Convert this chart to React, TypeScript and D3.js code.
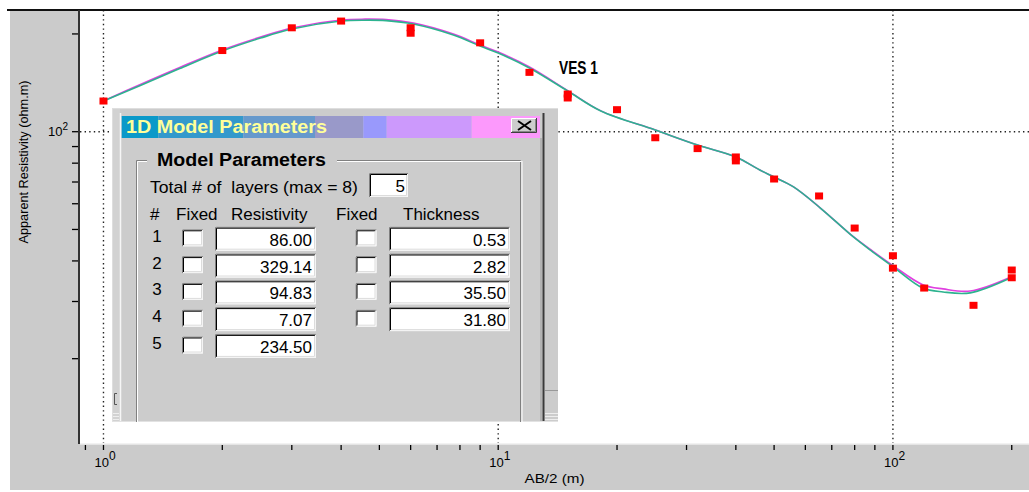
import React from 'react';
import * as d3 from 'd3';

// ---- observed data (AB/2 in m, apparent resistivity in ohm.m) ----
const obsAB = [1, 2, 3, 4, 6, 6, 9, 12, 15, 15, 20, 25, 32, 40, 40, 50, 65, 80, 100, 100, 120, 160, 200, 200];
const obsRho = [124.3, 177.8, 208.9, 219.1, 209, 201, 187.8, 152.3, 130.6, 127, 116.9, 95.8, 88.7, 83.6, 81.3, 71.5, 63.4, 50.5, 41.5, 38.0, 33.0, 29.2, 37.5, 35.5];

// ---- model curves ----
const curveAB = [1, 1.24, 1.56, 2, 2.5, 3, 4, 4.6, 5.2, 6.1, 7.7, 9, 10, 12, 15, 18.2, 25, 32, 40, 46, 50, 56, 65.5, 79.4, 89, 100, 119, 134, 157, 199];
const curveRhoFit = [124.3, 138.8, 156.5, 177.2, 194.2, 207.0, 219.1, 220.5, 219.8, 214.5, 198.4, 183.5, 174.7, 157.1, 133.4, 115.8, 101.2, 91.0, 83.6, 76.2, 72.5, 67.6, 58.2, 47.4, 42.6, 38.4, 33.0, 32.1, 31.9, 35.5];
const curveRhoCalc = [124.3, 139.8, 157.7, 178.5, 195.6, 208.5, 220.7, 222.1, 221.4, 216.0, 199.8, 184.8, 175.9, 158.2, 133.8, 115.9, 101.2, 91.0, 83.6, 76.2, 72.5, 67.6, 58.2, 47.5, 42.8, 38.7, 33.8, 32.8, 32.3, 35.7];

// ---- axes ----
const xTickValues = [0.9, 1, 2, 3, 4, 5, 6, 7, 8, 9, 10, 20, 30, 40, 50, 60, 70, 80, 90, 100, 200];
const xMajor = [1, 10, 100];
const xMajorExp = ['0', '1', '2'];
const yTickValues = [20, 30, 40, 50, 60, 70, 80, 90, 100, 200];
const yMajor = [100];
const yMajorExp = ['2'];
const xTitle = 'AB/2 (m)';
const yTitle = 'Apparent Resistivity (ohm.m)';
const seriesLabel = 'VES 1';

// ---- dialog contents ----
const dialogTitle = '1D Model Parameters';
const groupTitle = 'Model Parameters';
const layersLabel = 'Total # of  layers (max = 8)';
const layerCount = '5';
const headers = ['#', 'Fixed', 'Resistivity', 'Fixed', 'Thickness'];
const layerIds = ['1', '2', '3', '4', '5'];
const resistivity = ['86.00', '329.14', '94.83', '7.07', '234.50'];
const thickness = ['0.53', '2.82', '35.50', '31.80'];

const titleBarColors = ['#0a99c9', '#3399cc', '#6699cc', '#9999c9', '#9999fc', '#cc99fc', '#fc99fc'];
const titleBarStops = [121.7, 158.3, 243.3, 315, 363.3, 386.7, 471.7, 540];

const FONT = '"Liberation Sans", Arial, sans-serif';
const GRAY = '#cbcbcb';

function Sunken({ x, y, w, h }: { x: number; y: number; w: number; h: number }) {
  return (
    <g>
      <rect x={x} y={y} width={w} height={h} fill="#ffffff" />
      <path d={`M${x + 0.5},${y + h} V${y + 0.5} H${x + w}`} stroke="#808080" fill="none" />
      <path d={`M${x + 1.5},${y + h - 1} V${y + 1.5} H${x + w - 1}`} stroke="#000000" fill="none" />
      <path d={`M${x + 1},${y + h - 0.5} H${x + w - 0.5} V${y + 1}`} stroke="#f4f4f4" fill="none" />
      <path d={`M${x + 2},${y + h - 1.5} H${x + w - 1.5} V${y + 2}`} stroke="#dcdcdc" fill="none" />
    </g>
  );
}

export default function App() {
  const W = 1029, H = 492;
  const plotL = 80, plotT = 10, plotR = 1029, plotB = 443;
  const xs = d3.scaleLog().domain([0.872, 250]).range([plotL, 1050]);
  const ys = d3.scaleLog().domain([11, 237]).range([plotB, plotT]);

  const line = d3.line<[number, number]>()
    .x(d => xs(d[0]))
    .y(d => ys(d[1]))
    .curve(d3.curveCatmullRom.alpha(0.5));
  const fitPts: [number, number][] = curveAB.map((a, i) => [a, curveRhoFit[i]]);
  const calcPts: [number, number][] = curveAB.map((a, i) => [a, curveRhoCalc[i]]);

  // dialog geometry
  const dx = 112, dy = 108, dw = 446, dh = 314;
  const rowTop = (i: number) => 226.7 + 26.8 * i;

  return (
    <div style={{ position: 'absolute', left: 0, top: 0 }}>
      <svg width={W} height={H} style={{ display: 'block', fontFamily: FONT }}>
        <rect x={0} y={0} width={W} height={H} fill="#ffffff" />
        <rect x={10} y={10} width={W - 10} height={480} fill={GRAY} />
        <rect x={plotL} y={plotT} width={plotR - plotL} height={plotB - plotT + 1} fill="#ffffff" />

        {/* grid */}
        {xMajor.map(v => (
          <line key={'gx' + v} x1={xs(v)} x2={xs(v)} y1={plotT} y2={plotB}
            stroke="#222" strokeWidth={1.4} strokeDasharray="1.4 3.2" />
        ))}
        {yMajor.map(v => (
          <line key={'gy' + v} x1={plotL} x2={plotR} y1={ys(v)} y2={ys(v)}
            stroke="#222" strokeWidth={1.4} strokeDasharray="1.4 3.2" />
        ))}

        {/* frame lines */}
        <line x1={7} x2={W} y1={10} y2={10} stroke="#111" strokeWidth={2} />
        <line x1={79} x2={79} y1={10} y2={plotB + 1} stroke="#333" strokeWidth={2} />
        <line x1={plotL} x2={plotR} y1={plotB + 1} y2={plotB + 1} stroke="#eeeeee" strokeWidth={1.5} />

        {/* x ticks */}
        {xTickValues.map(v => (
          <line key={'xt' + v} x1={xs(v)} x2={xs(v)} y1={plotB + 2} y2={plotB + 7} stroke="#000" strokeWidth={1.3} />
        ))}
        {xMajor.map((v, i) => (
          <text key={'xl' + v} x={xs(v) - 9} y={467} fontSize={13} fill="#000">
            10<tspan dy={-7} fontSize={12}>{xMajorExp[i]}</tspan>
          </text>
        ))}
        <text x={(plotL + plotR) / 2} y={483} fontSize={13} textAnchor="middle" fill="#000"
          textLength={60} lengthAdjust="spacingAndGlyphs">{xTitle}</text>

        {/* y ticks */}
        {yTickValues.map(v => (
          <line key={'yt' + v} x1={72} x2={78} y1={ys(v)} y2={ys(v)} stroke="#000" strokeWidth={1.3} />
        ))}
        {yMajor.map((v, i) => (
          <text key={'yl' + v} x={68} y={ys(v) + 4} fontSize={13} textAnchor="end" fill="#000">
            10<tspan dy={-6} fontSize={10}>{yMajorExp[i]}</tspan>
          </text>
        ))}
        <text transform="translate(28,162) rotate(-90)" fontSize={12.5} textAnchor="middle" fill="#000"
          textLength={163} lengthAdjust="spacingAndGlyphs">{yTitle}</text>

        {/* curves */}
        <path d={line(calcPts) || ''} fill="none" stroke="#e040e0" strokeWidth={1.6} />
        <path d={line(fitPts) || ''} fill="none" stroke="#2db38f" strokeWidth={1.6} />

        {/* observed points */}
        {obsAB.map((a, i) => (
          <rect key={'p' + i} x={xs(a) - 4} y={ys(obsRho[i]) - 3.5} width={8} height={7} fill="#ff0000" />
        ))}

        <text x={559} y={73.5} fontSize={18.5} fontWeight="bold" fill="#000"
          style={{ fontFamily: '"Liberation Sans Narrow", "Arial Narrow", "Liberation Sans", sans-serif' }}
          textLength={39} lengthAdjust="spacingAndGlyphs">{seriesLabel}</text>

        {/* ---------- dialog ---------- */}
        <g>
          <rect x={dx} y={dy} width={dw} height={dh} fill="#cccccc" />
          <line x1={dx} x2={dx + dw} y1={dy + 0.5} y2={dy + 0.5} stroke="#dedede" />
          <line x1={dx + 0.5} x2={dx + 0.5} y1={dy} y2={dy + dh} stroke="#dedede" />
          <rect x={dx + 1} y={dy + 1} width={7} height={dh - 1} fill="#d2d2d2" />
          <line x1={120.5} x2={120.5} y1={113} y2={dy + dh} stroke="#f6f6f6" strokeWidth={1.5} />
          <path d="M117,393.5 H114.5 V404.5 H117" stroke="#555" fill="none" />
          {[413, 416, 419].map(y => (
            <line key={'lb' + y} x1={113} x2={119} y1={y + 0.5} y2={y + 0.5} stroke="#eeeeee" />
          ))}
          <line x1={543.5} x2={543.5} y1={113} y2={dy + dh} stroke="#3a3a3a" strokeWidth={2} />
          <line x1={541} x2={541} y1={138} y2={dy + dh} stroke="#9a9a9a" strokeWidth={1} />
          <line x1={545} x2={558} y1={390.5} y2={390.5} stroke="#999" />
          {[413, 416, 419].map(y => (
            <line key={'rb' + y} x1={545} x2={558} y1={y + 0.5} y2={y + 0.5} stroke="#eeeeee" />
          ))}
          <line x1={dx} x2={dx + dw} y1={dy + dh - 0.5} y2={dy + dh - 0.5} stroke="#e2e2e2" />

          {/* title bar */}
          {titleBarColors.map((c, i) => (
            <rect key={'tb' + i} x={titleBarStops[i]} y={116} width={titleBarStops[i + 1] - titleBarStops[i]} height={22} fill={c} />
          ))}
          <text x={126} y={132.5} fontSize={18} fontWeight="bold" fill="#ffff99"
            textLength={201} lengthAdjust="spacingAndGlyphs">{dialogTitle}</text>
          {/* close button */}
          <rect x={511} y={118} width={26} height={15} fill="#cccccc" />
          <path d="M511.5,133 V118.5 H537" stroke="#ffffff" fill="none" />
          <path d="M511,132.5 H536.5 V118" stroke="#404040" fill="none" />
          <path d="M512,131.5 H535.5 V119" stroke="#888888" fill="none" />
          <path d="M518,121 L531,130 M531,121 L518,130" stroke="#000" strokeWidth={2} />

          {/* group box */}
          <path d={`M147,160.5 H136.5 V${dy + dh}`} stroke="#808080" fill="none" />
          <path d={`M147,161.5 H137.5 V${dy + dh}`} stroke="#ffffff" fill="none" />
          <path d={`M337,160.5 H520.5 V${dy + dh}`} stroke="#808080" fill="none" />
          <path d={`M337,161.5 H521.5`} stroke="#ffffff" fill="none" />
          <line x1={522} x2={522} y1={161} y2={dy + dh} stroke="#ffffff" />
          <text x={157} y={166} fontSize={17.5} fontWeight="bold" fill="#000"
            textLength={169} lengthAdjust="spacingAndGlyphs">{groupTitle}</text>

          <text x={150} y={193} fontSize={17} fill="#000" style={{ whiteSpace: 'pre' }}
            textLength={208} lengthAdjust="spacingAndGlyphs">{layersLabel}</text>
          <Sunken x={369} y={173} w={39} h={24} />
          <text x={405} y={192} fontSize={17} textAnchor="end" fill="#000">{layerCount}</text>

          {/* headers */}
          <text x={150} y={220} fontSize={17} fill="#000">{headers[0]}</text>
          <text x={176} y={220} fontSize={17} fill="#000">{headers[1]}</text>
          <text x={231} y={220} fontSize={17} fill="#000">{headers[2]}</text>
          <text x={336} y={220} fontSize={17} fill="#000">{headers[3]}</text>
          <text x={403} y={220} fontSize={17} fill="#000">{headers[4]}</text>

          {layerIds.map((id, i) => {
            const t = rowTop(i);
            return (
              <g key={'row' + id}>
                <text x={157} y={t + 15} fontSize={17} textAnchor="middle" fill="#000">{id}</text>
                <Sunken x={182} y={t + 2.6} w={21} h={17} />
                <Sunken x={215} y={t} w={101} h={24} />
                <text x={312} y={t + 19} fontSize={17} textAnchor="end" fill="#000">{resistivity[i]}</text>
                {i < thickness.length && (
                  <g>
                    <Sunken x={355.5} y={t + 2.6} w={21} h={17} />
                    <Sunken x={389} y={t} w={121} h={24} />
                    <text x={506} y={t + 19} fontSize={17} textAnchor="end" fill="#000">{thickness[i]}</text>
                  </g>
                )}
              </g>
            );
          })}
        </g>
      </svg>
    </div>
  );
}
